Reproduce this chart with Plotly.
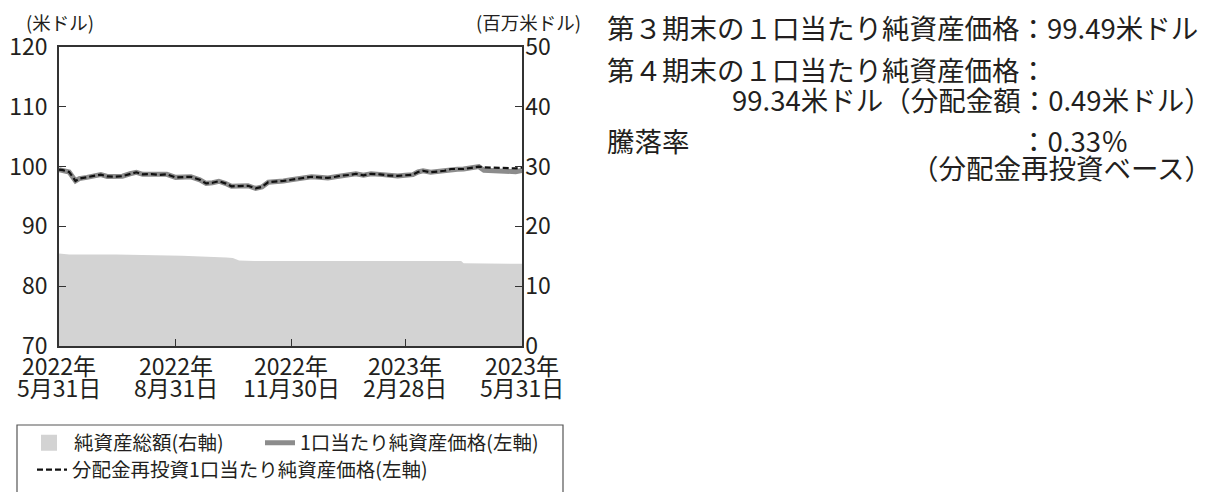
import plotly.graph_objects as go

# ---------------- data ----------------
nav_dates = [
    "2022-05-31", "2022-06-03", "2022-06-08", "2022-06-13", "2022-06-16", "2022-06-22",
    "2022-06-28", "2022-07-03", "2022-07-08", "2022-07-14", "2022-07-20", "2022-07-26",
    "2022-07-31", "2022-08-05", "2022-08-12", "2022-08-18", "2022-08-24", "2022-08-31",
    "2022-09-06", "2022-09-12", "2022-09-19", "2022-09-24", "2022-09-29", "2022-10-04",
    "2022-10-09", "2022-10-14", "2022-10-20", "2022-10-27", "2022-11-02", "2022-11-07",
    "2022-11-12", "2022-11-18", "2022-11-24", "2022-11-30", "2022-12-05", "2022-12-11",
    "2022-12-16", "2022-12-22", "2022-12-29", "2023-01-04", "2023-01-09", "2023-01-15",
    "2023-01-20", "2023-01-26", "2023-02-01", "2023-02-08", "2023-02-15", "2023-02-22",
    "2023-02-28", "2023-03-06", "2023-03-10", "2023-03-14", "2023-03-20", "2023-03-26",
    "2023-03-31", "2023-04-05", "2023-04-10", "2023-04-15", "2023-04-21", "2023-04-27",
    "2023-05-01", "2023-05-08", "2023-05-15", "2023-05-22", "2023-05-26", "2023-05-31",
]
# 1口当たり純資産価格 (左軸, 米ドル)
nav_values = [
    99.49, 99.40, 99.10, 97.60, 98.00, 98.20,
    98.40, 98.65, 98.35, 98.30, 98.40, 98.80,
    99.05, 98.70, 98.75, 98.60, 98.70, 98.20,
    98.25, 98.30, 97.80, 97.20, 97.30, 97.55,
    97.20, 96.70, 96.75, 96.80, 96.35, 96.60,
    97.40, 97.45, 97.60, 97.80, 97.95, 98.10,
    98.30, 98.20, 98.10, 98.30, 98.50, 98.60,
    98.80, 98.55, 98.80, 98.70, 98.50, 98.45,
    98.55, 98.65, 99.10, 99.30, 99.05, 99.20,
    99.30, 99.60, 99.55, 99.60, 99.80, 100.00,
    99.40, 99.35, 99.30, 99.35, 99.15, 99.34,
]
# 分配金再投資1口当たり純資産価格 (左軸, 米ドル)
reinv_values = [
    99.49, 99.40, 99.10, 97.60, 98.00, 98.20,
    98.40, 98.65, 98.35, 98.30, 98.40, 98.80,
    99.05, 98.70, 98.75, 98.60, 98.70, 98.20,
    98.25, 98.30, 97.80, 97.20, 97.30, 97.55,
    97.20, 96.70, 96.75, 96.80, 96.35, 96.60,
    97.40, 97.45, 97.60, 97.80, 97.95, 98.10,
    98.30, 98.20, 98.10, 98.30, 98.50, 98.60,
    98.80, 98.55, 98.80, 98.70, 98.50, 98.45,
    98.55, 98.65, 99.10, 99.30, 99.05, 99.20,
    99.30, 99.60, 99.55, 99.60, 99.80, 100.00,
    99.88, 99.83, 99.80, 99.85, 99.70, 99.83,
]
# 純資産総額 (右軸, 百万米ドル)
aum_dates = [
    "2022-05-31", "2022-06-08", "2022-07-15", "2022-08-10", "2022-09-05", "2022-10-10",
    "2022-10-15", "2022-10-20", "2022-11-01", "2022-12-31", "2023-02-28", "2023-04-13",
    "2023-04-15", "2023-05-31",
]
aum_values = [
    15.45, 15.30, 15.30, 15.25, 15.10, 14.80,
    14.70, 14.30, 14.20, 14.20, 14.15, 14.20,
    13.85, 13.75,
]

x_tickvals = ["2022-05-31", "2022-08-31", "2022-11-30", "2023-02-28", "2023-05-31"]
x_tick_year = ["2022年", "2022年", "2022年", "2023年", "2023年"]
x_tick_day = ["5月31日", "8月31日", "11月30日", "2月28日", "5月31日"]
left_ticks = [70, 80, 90, 100, 110, 120]
right_ticks = [0, 10, 20, 30, 40, 50]

# ---------------- layout geometry ----------------
W, H = 1210, 492
L, R, T, B = 51, 514, 39, 338
pw, ph = R - L, B - T


def px(x):
    return (x - L) / pw


def py(y):
    return (B - y) / ph


FONT = "Noto Sans CJK JP"
TXT = "#231f20"
AX = "#333333"
LEGF = dict(size=19.5, family=FONT, color=TXT)

fig = go.Figure()

fig.add_trace(go.Scatter(
    x=aum_dates, y=aum_values, yaxis="y2", mode="lines",
    line=dict(width=0, shape="linear"), fill="tozeroy", fillcolor="#d3d3d3",
    showlegend=False, hoverinfo="skip",
))
# legend entry for the area (square swatch)
fig.add_trace(go.Scatter(
    x=[None], y=[None], mode="markers", name="純資産総額(右軸)",
    marker=dict(symbol="square", size=17, color="#d3d3d3"), legend="legend",
))
fig.add_trace(go.Scatter(
    x=nav_dates, y=nav_values, mode="lines", name="1口当たり純資産価格(左軸)",
    line=dict(color="#8c8c8c", width=5), legend="legend3",
))
fig.add_trace(go.Scatter(
    x=nav_dates, y=reinv_values, mode="lines", name="分配金再投資1口当たり純資産価格(左軸)",
    line=dict(color="#111111", width=2.2, dash="6px,3px"), legend="legend2",
))

fig.update_layout(
    width=W, height=H,
    margin=dict(l=L, r=W - R, t=T, b=H - B, autoexpand=False),
    paper_bgcolor="white", plot_bgcolor="white",
    font=dict(family=FONT, size=21, color=TXT),
    xaxis=dict(
        type="date", range=["2022-05-31", "2023-05-31"],
        tickvals=x_tickvals, showticklabels=False,
        ticks="inside", ticklen=7, tickwidth=1.3, tickcolor=AX,
        showline=True, linecolor=AX, linewidth=1.5, mirror=True,
        showgrid=False, zeroline=False,
    ),
    yaxis=dict(
        range=[70, 120], tickvals=left_ticks,
        ticks="inside", ticklen=7, tickwidth=1.3, tickcolor=AX,
        showline=True, linecolor=AX, linewidth=1.5,
        showgrid=False, zeroline=False, ticklabelstandoff=5,
        tickfont=dict(size=23, family=FONT, color=TXT),
    ),
    yaxis2=dict(
        range=[0, 50], tickvals=right_ticks, overlaying="y", side="right",
        ticks="inside", ticklen=7, tickwidth=1.3, tickcolor=AX,
        showline=True, linecolor=AX, linewidth=1.5,
        showgrid=False, zeroline=False, ticklabelstandoff=-3,
        tickfont=dict(size=23, family=FONT, color=TXT),
    ),
    legend=dict(
        orientation="h", x=px(16), xanchor="left", y=py(435), yanchor="middle",
        font=LEGF, bgcolor="rgba(0,0,0,0)", itemwidth=40,
    ),
    legend3=dict(
        orientation="h", x=px(252), xanchor="left", y=py(435), yanchor="middle",
        font=LEGF, bgcolor="rgba(0,0,0,0)", itemwidth=30,
    ),
    legend2=dict(
        orientation="h", x=px(24), xanchor="left", y=py(462), yanchor="middle",
        font=LEGF, bgcolor="rgba(0,0,0,0)", itemwidth=30,
    ),
    showlegend=True,
)

# x tick labels (two tight rows, placed on the x scale)
for xv, yr, dy in zip(x_tickvals, x_tick_year, x_tick_day):
    fig.add_annotation(text=yr, xref="x", yref="paper", x=xv, y=py(357),
                       xanchor="center", yanchor="middle", showarrow=False,
                       font=dict(size=23, family=FONT, color=TXT))
    fig.add_annotation(text=dy, xref="x", yref="paper", x=xv, y=py(379),
                       xanchor="center", yanchor="middle", showarrow=False,
                       font=dict(size=23, family=FONT, color=TXT))

# legend frame
fig.add_shape(type="rect", xref="paper", yref="paper",
              x0=px(9), x1=px(555), y0=py(417), y1=py(520),
              line=dict(color="#555555", width=1.2), fillcolor="rgba(0,0,0,0)")

# axis unit labels
fig.add_annotation(text="(米ドル)", xref="paper", yref="paper", x=px(17), y=py(0),
                   xanchor="left", yanchor="top", showarrow=False, borderpad=0,
                   font=dict(size=18.5, family=FONT, color=TXT))
fig.add_annotation(text="(百万米ドル)", xref="paper", yref="paper", x=px(574), y=py(0),
                   xanchor="right", yanchor="top", showarrow=False, borderpad=0,
                   font=dict(size=18.5, family=FONT, color=TXT))

# right-hand text block
RF = dict(size=27.5, family=FONT, color=TXT)
notes = [
    ("第３期末の１口当たり純資産価格：99.49米ドル", 597, 19, "left"),
    ("第４期末の１口当たり純資産価格：", 597, 61, "left"),
    ("99.34米ドル（分配金額：0.49米ドル）", 1206, 91, "right"),
    ("騰落率", 597, 132, "left"),
    ("：0.33％", 1010, 132, "left"),
    ("（分配金再投資ベース）", 1206, 159, "right"),
]
for text, x, y, anc in notes:
    fig.add_annotation(text=text, xref="paper", yref="paper", x=px(x), y=py(y),
                       xanchor=anc, yanchor="middle", showarrow=False, font=RF)

fig.write_html("out.html")
